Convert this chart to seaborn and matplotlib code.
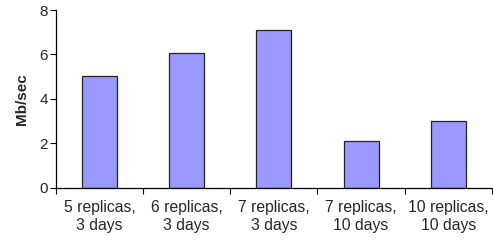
import matplotlib
matplotlib.use("Agg")
import matplotlib.pyplot as plt
import numpy as np
import pandas as pd
import seaborn as sns

# ── Data ────────────────────────────────────────────
categories = [
    "5 replicas,\n3 days",
    "6 replicas,\n3 days",
    "7 replicas,\n3 days",
    "7 replicas,\n10 days",
    "10 replicas,\n10 days",
]
throughput = [5.05, 6.07, 7.08, 2.1, 3.03]
y_ticks = [0, 2, 4, 6, 8]

df = pd.DataFrame({"config": categories, "mbps": throughput})

sns.set_theme(style="white")
plt.rcParams["font.family"] = ["Liberation Sans", "DejaVu Sans"]

fig = plt.figure(figsize=(4.93, 2.41), dpi=100)
ax = fig.add_axes([0.1136, 0.22, 0.884, 0.7385])

sns.barplot(data=df, x="config", y="mbps", color="#9999FF", saturation=1,
            width=0.4, edgecolor="#222222", linewidth=0.9, ax=ax)

ax.set_xlim(-0.5, len(categories) - 0.5)
ax.set_ylim(0, 8)
ax.set_yticks(y_ticks)
ax.set_ylabel("Mb/sec", fontsize=11, fontweight="bold", labelpad=7)
ax.set_xlabel("")

sns.despine(ax=ax)
for side in ("left", "bottom"):
    ax.spines[side].set_color("black")
    ax.spines[side].set_linewidth(0.9)

# category boundary ticks on the x axis
ax.set_xticks(np.arange(len(categories) + 1) - 0.5, minor=True)
ax.tick_params(axis="x", which="major", length=0, pad=9, labelsize=11.3)
ax.tick_params(axis="x", which="minor", length=4, width=0.8, color="black",
               direction="out", bottom=True)
ax.tick_params(axis="y", length=4, width=0.8, color="black", direction="out",
               left=True, labelsize=11, pad=2)

fig.savefig("out.png", dpi=100)
